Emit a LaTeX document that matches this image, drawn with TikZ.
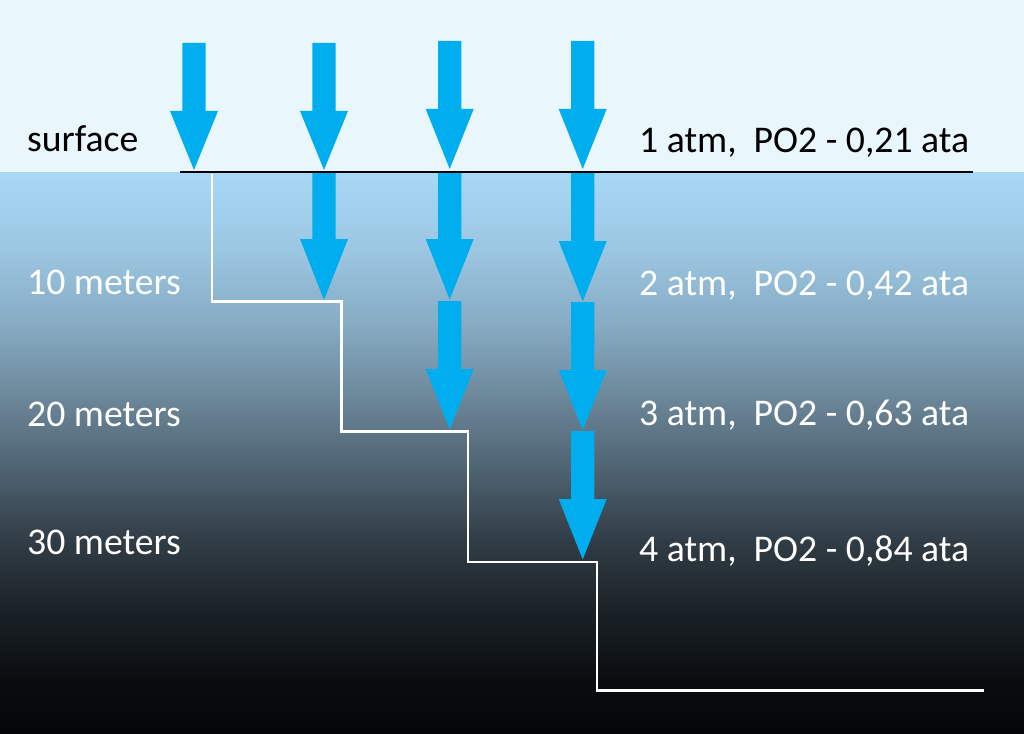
\documentclass[tikz,border=0pt]{standalone}
\usepackage{fontspec}
\setmainfont{Carlito}
\definecolor{skyc}{HTML}{E9F7FC}
\definecolor{w0}{HTML}{A8D8F5}
\definecolor{w1}{HTML}{9BC6E2}
\definecolor{w2}{HTML}{85A9C1}
\definecolor{w3}{HTML}{6B8698}
\definecolor{w4}{HTML}{4E6271}
\definecolor{w5}{HTML}{313D46}
\definecolor{w6}{HTML}{1B2227}
\definecolor{w7}{HTML}{0A0D10}
\definecolor{w8}{HTML}{040506}
\definecolor{arrowblue}{HTML}{00AEEF}
\newcommand\pdarrow[4]{%
  \fill[arrowblue] (#1-11.7,#2) -- (#1+11.7,#2) -- (#1+11.7,#3) -- (#1+24,#3)
    -- (#1,#4) -- (#1-24,#3) -- (#1-11.7,#3) -- cycle;}
\begin{document}
\frenchspacing
\begin{tikzpicture}[x=1pt,y=-1pt,
  lbl/.style={anchor=base west, inner sep=0pt, font=\fontsize{37.7}{40}\selectfont},
  darklbl/.style={lbl, text=black},
  lightlbl/.style={lbl, text=white},
  surfline/.style={black, line width=2pt},
  stepline/.style={white, line width=2.2pt, line join=miter}]
\useasboundingbox (0,0) rectangle (1024,733);
% sky
\fill[skyc] (0,0) rectangle (1024,172.5);
% water
\foreach \ya/\yb/\ca/\cb in {172.5/250/w0/w1, 250/330/w1/w2, 330/400/w2/w3,
   400/470/w3/w4, 470/540/w4/w5, 540/610/w5/w6, 610/680/w6/w7, 680/733/w7/w8}
  \shade[top color=\ca, bottom color=\cb] (0,\ya-0.4) rectangle (1024,\yb+0.4);
% arrows
\pdarrow{194}{43}{111}{170}
\pdarrow{324}{43}{111}{170}
\pdarrow{324}{172}{239}{300}
\pdarrow{449.7}{41}{109}{169}
\pdarrow{449.7}{172}{239}{299.5}
\pdarrow{449.7}{301}{369}{429.5}
\pdarrow{582.7}{41}{109}{169}
\pdarrow{582.7}{172}{241}{301.5}
\pdarrow{582.7}{302}{370}{430}
\pdarrow{582.7}{431}{499}{559.5}
% surface line
\coordinate (sL) at (180,172.3);
\coordinate (sR) at (972.5,172.3);
\draw[surfline] (sL) -- (sR);
% step profile
\coordinate (p0) at (211.7,173.5);
\coordinate (p1) at (211.7,301.5);
\coordinate (p2) at (341.5,301.5);
\coordinate (p3) at (341.5,431.5);
\coordinate (p4) at (467.7,431.5);
\coordinate (p5) at (467.7,562);
\coordinate (p6) at (597.3,562);
\coordinate (p7) at (597.3,690.5);
\coordinate (p8) at (984.3,690.5);
\draw[stepline] (p0) -- (p1) -- (p2) -- (p3) -- (p4) -- (p5) -- (p6) -- (p7) -- (p8);
% labels left
\node[darklbl] (surf) at (27,151) {surface};
\node[lightlbl] (m10) at (27,294) {10 meters};
\node[lightlbl] (m20) at (27,426) {20 meters};
\node[lightlbl] (m30) at (27,554) {30 meters};
% labels right
\node[darklbl] (a1) at (639,152) {1 atm,\ \ PO2 - 0,21 ata};
\node[lightlbl] (a2) at (639,295) {2 atm,\ \ PO2 - 0,42 ata};
\node[lightlbl] (a3) at (639,425) {3 atm,\ \ PO2 - 0,63 ata};
\node[lightlbl] (a4) at (639,561) {4 atm,\ \ PO2 - 0,84 ata};
\end{tikzpicture}
\end{document}
